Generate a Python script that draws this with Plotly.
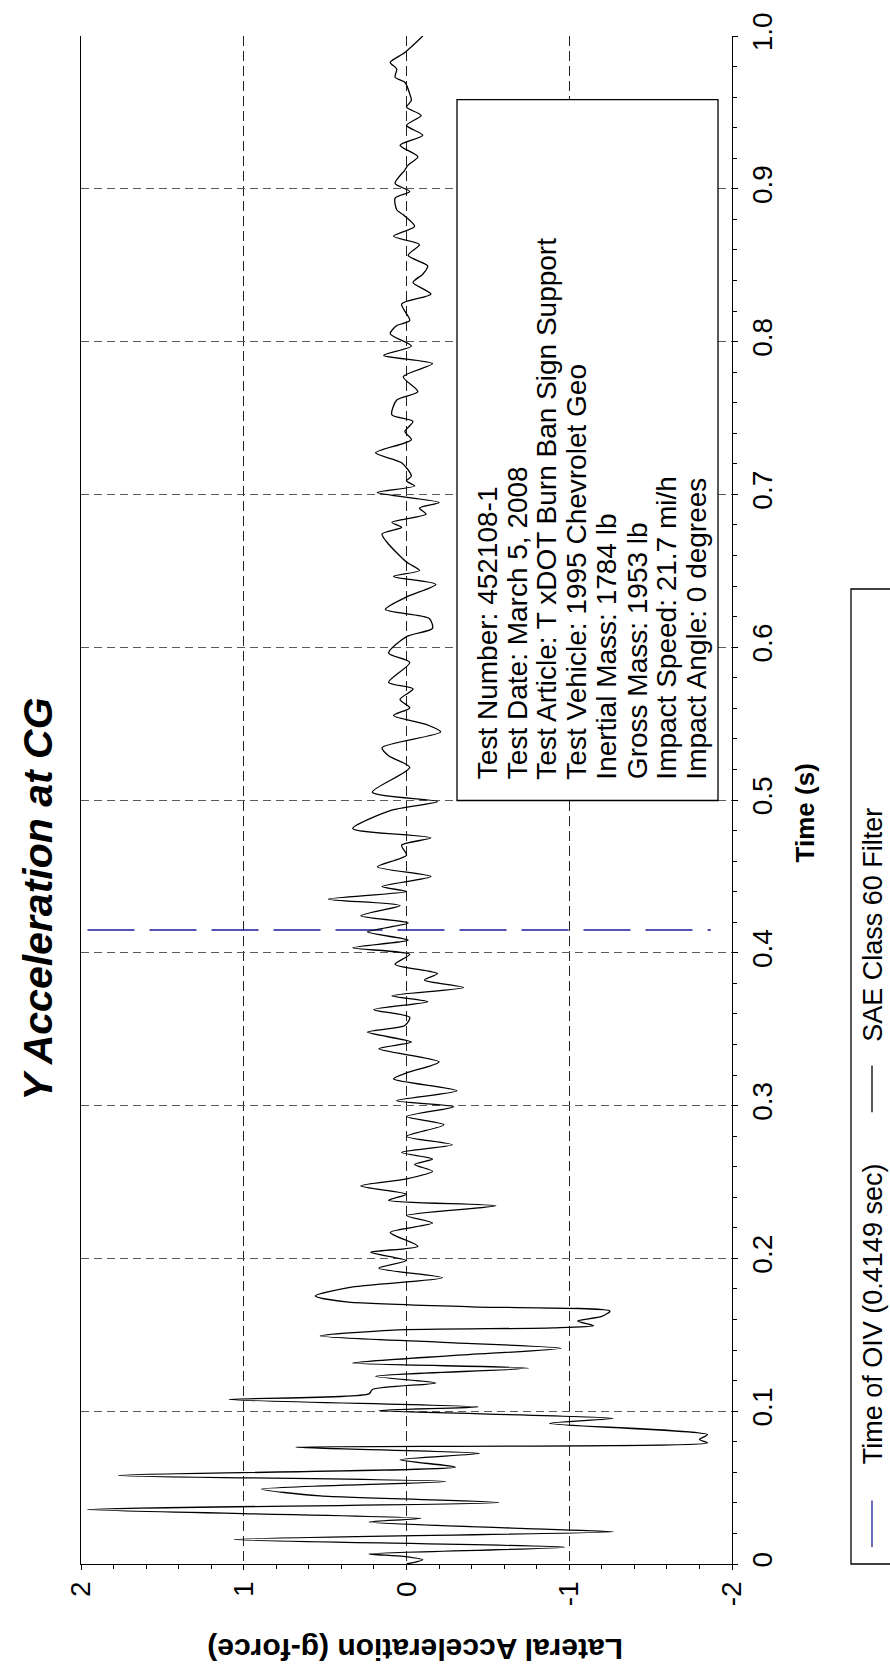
import plotly.graph_objects as go

# ---- data -----------------------------------------------------------------
# Y acceleration at the CG (g), SAE Class 60 filtered, sampled at its turning points
time_s = [
    0.0, 0.0028, 0.005, 0.0066, 0.011, 0.016, 0.0211, 0.0233, 0.0275, 0.0299,
    0.0356, 0.0403, 0.0446, 0.049, 0.054, 0.058, 0.0634, 0.0682, 0.0724, 0.0764,
    0.0793, 0.0815, 0.0847, 0.092, 0.0953, 0.1004, 0.1028, 0.1077, 0.1113, 0.1142,
    0.1185, 0.1228, 0.1282, 0.1315, 0.1365, 0.1412, 0.1449, 0.1492, 0.1531, 0.1545,
    0.156, 0.159, 0.162, 0.1655, 0.1683, 0.1715, 0.1754, 0.1813, 0.1873, 0.1936,
    0.1986, 0.2040, 0.2079, 0.2170, 0.2231, 0.228, 0.2344, 0.238, 0.242, 0.2474,
    0.252, 0.257, 0.2615, 0.2651, 0.2694, 0.2744, 0.2798, 0.2874, 0.2928, 0.2993,
    0.3032, 0.3097, 0.3175, 0.3214, 0.3286, 0.3372, 0.3416, 0.3481, 0.3524, 0.3578,
    0.3628, 0.368, 0.3719, 0.3773, 0.3821, 0.3864, 0.3925, 0.399, 0.4033, 0.4083,
    0.4137, 0.4195, 0.4243, 0.431, 0.4351, 0.4401, 0.4434, 0.4499, 0.4563, 0.4639,
    0.4704, 0.4752, 0.4813, 0.4931, 0.499, 0.5051, 0.5213, 0.5289, 0.5343, 0.5445,
    0.5495, 0.5553, 0.5603, 0.5658, 0.5727, 0.577, 0.59, 0.5961, 0.6069, 0.6123,
    0.6188, 0.6247, 0.6329, 0.6411, 0.6463, 0.6502, 0.6557, 0.6687, 0.6741, 0.6784,
    0.6817, 0.6871, 0.691, 0.6947, 0.7012, 0.7055, 0.7088, 0.712, 0.7207, 0.7272,
    0.7358, 0.7412, 0.7477, 0.7521, 0.7618, 0.7672, 0.777, 0.7856, 0.791, 0.7971,
    0.8051, 0.8105, 0.8138, 0.8246, 0.8311, 0.8387, 0.8441, 0.8495, 0.8564, 0.8635,
    0.8689, 0.8754, 0.883, 0.8863, 0.8939, 0.8982, 0.9036, 0.9123, 0.9155, 0.921,
    0.9285, 0.935, 0.9415, 0.948, 0.9534, 0.9578, 0.9621, 0.9697, 0.973, 0.9784,
    0.9827, 0.9892, 1.0,
]
accel_g = [
    0.0, -0.10, 0.02, 0.23, -0.97, 1.06, -1.27, -0.70, 0.23, -0.09,
    1.96, -0.57, 0.53, 0.89, -0.24, 1.77, -0.30, 0.04, -0.45, 0.68,
    -1.85, -1.80, -1.85, -0.88, -1.27, 0.17, -0.44, 1.09, 0.23, 0.21,
    -0.18, 0.19, -0.75, 0.33, -0.30, -0.95, -0.26, 0.53, 0.08, -0.90,
    -1.15, -1.05, -1.20, -1.25, -0.40, 0.37, 0.56, 0.33, -0.22, 0.17,
    0.00, 0.22, -0.07, 0.10, -0.16, 0.00, -0.55, 0.11, 0.00, 0.28,
    0.00, -0.16, -0.05, -0.16, 0.03, -0.28, 0.00, -0.23, 0.00, -0.29,
    0.06, -0.31, 0.08, 0.00, -0.20, 0.17, -0.03, 0.24, 0.01, -0.02,
    0.20, -0.13, 0.09, -0.35, -0.11, -0.19, 0.07, -0.02, 0.33, -0.01,
    0.24, -0.01, 0.28, 0.04, 0.48, 0.00, 0.15, -0.15, 0.18, 0.00,
    0.03, -0.15, 0.33, 0.10, -0.19, 0.21, -0.02, 0.11, 0.15, -0.21,
    -0.12, 0.08, -0.02, 0.04, -0.04, 0.11, -0.02, 0.11, 0.00, -0.16,
    -0.14, 0.13, 0.00, -0.18, 0.08, -0.08, 0.00, 0.12, 0.15, 0.03,
    0.09, -0.12, -0.08, -0.20, 0.18, -0.05, 0.00, -0.03, 0.03, 0.19,
    -0.03, 0.01, -0.04, 0.09, 0.06, -0.07, 0.02, -0.16, 0.14, -0.03,
    0.10, 0.06, -0.02, 0.03, -0.15, -0.04, -0.10, -0.13, -0.01, -0.08,
    0.08, -0.05, 0.02, 0.06, 0.07, -0.02, 0.07, 0.01, -0.01, -0.07,
    0.04, -0.10, 0.00, -0.09, 0.00, -0.03, -0.02, 0.01, 0.07, 0.06,
    0.10, 0.01, -0.10,
]

# occupant impact velocity time
oiv_time = 0.4149
oiv_span_g = [1.96, -1.87]

accel_ticks = [2, 1, 0, -1, -2]
accel_ticktext = ["2", "1", "0", "-1", "-2"]
time_ticks = [0.0, 0.1, 0.2, 0.3, 0.4, 0.5, 0.6, 0.7, 0.8, 0.9, 1.0]
time_ticktext = ["0", "0.1", "0.2", "0.3", "0.4", "0.5", "0.6", "0.7", "0.8", "0.9", "1.0"]

test_info = [
    "Test Number: 452108-1",
    "Test Date: March 5, 2008",
    "Test Article: T xDOT Burn Ban Sign Support",
    "Test Vehicle: 1995 Chevrolet Geo",
    "Inertial Mass: 1784 lb",
    "Gross Mass: 1953 lb",
    "Impact Speed: 21.7 mi/h",
    "Impact Angle: 0 degrees",
]

legend_labels = ["Time of OIV (0.4149 sec)", "SAE Class 60 Filter"]

# ---- page geometry (pixels) -------------------------------------------------
W, H = 890, 1675
ML, MR, MT, MB = 81, 158, 25, 111
PW, PH = W - ML - MR, H - MT - MB

FONT = "Arial, Liberation Sans, sans-serif"
OIV_BLUE = "#1c1c9c"


def px(xpix):
    return (xpix - ML) / PW


def py(ypix):
    return (H - MB - ypix) / PH


fig = go.Figure()

fig.add_trace(go.Scatter(
    x=[oiv_span_g[0], oiv_span_g[1]], y=[oiv_time, oiv_time],
    mode="lines", line=dict(color=OIV_BLUE, width=1.4, dash="47px,15px"),
    showlegend=False, hoverinfo="skip",
))
fig.add_trace(go.Scatter(
    x=accel_g, y=time_s, mode="lines",
    line=dict(color="black", width=1.3, shape="spline", smoothing=0.7),
    showlegend=False,
))

fig.update_xaxes(
    range=[2, -2], tickvals=accel_ticks, ticktext=accel_ticktext,
    tickangle=-90, tickfont=dict(family=FONT, size=28, color="black"),
    showline=True, linecolor="black", linewidth=1.3,
    ticks="outside", ticklen=5, tickcolor="black",
    minor=dict(dtick=0.2, ticks="outside", ticklen=4, tickcolor="black"),
    showgrid=True, gridcolor="#222222", gridwidth=1, griddash="10px,5px",
    zeroline=False, mirror=False,
)
fig.update_yaxes(
    range=[0, 1], side="right", tickvals=time_ticks, ticktext=time_ticktext,
    tickangle=-90, tickfont=dict(family=FONT, size=28, color="black"),
    showline=True, linecolor="black", linewidth=1.3, mirror=True,
    ticks="outside", ticklen=5, tickcolor="black",
    minor=dict(dtick=0.02, ticks="outside", ticklen=4, tickcolor="black"),
    showgrid=True, gridcolor="#5a5a5a", gridwidth=1, griddash="8px,5px",
    zeroline=False,
)

shapes = []
annotations = []

# information box
box_l, box_r, box_t, box_b = 457, 718, 89, 795
shapes.append(dict(type="rect", xref="paper", yref="paper",
                   x0=px(box_l), x1=px(box_r), y0=py(box_b), y1=py(box_t),
                   line=dict(color="black", width=1.3), fillcolor="white", layer="above"))
for i, line in enumerate(test_info):
    annotations.append(dict(
        text=line, xref="paper", yref="paper", x=px(487 + 30 * i), y=py(776),
        xanchor="center", yanchor="bottom", textangle=-90, showarrow=False,
        font=dict(family=FONT, size=28, color="black"),
    ))

# title and axis titles
annotations.append(dict(
    text="<b><i>Y Acceleration at CG</i></b>", xref="paper", yref="paper",
    x=px(38), y=py(895), xanchor="center", yanchor="middle", textangle=-90,
    showarrow=False, font=dict(family=FONT, size=41, color="black"),
))
annotations.append(dict(
    text="<b>Time (s)</b>", xref="paper", yref="paper",
    x=px(805), y=py(808), xanchor="center", yanchor="middle", textangle=-90,
    showarrow=False, font=dict(family=FONT, size=26, color="black"),
))
annotations.append(dict(
    text="<b>Lateral Acceleration (g-force)</b>", xref="paper", yref="paper",
    x=px(415), y=py(1650), xanchor="center", yanchor="middle", textangle=180,
    showarrow=False, font=dict(family=FONT, size=30, color="black"),
))

# legend panel
leg_l, leg_t, leg_b = 851, 582, 1564
shapes.append(dict(type="rect", xref="paper", yref="paper",
                   x0=px(leg_l), x1=px(W + 20), y0=py(leg_b), y1=py(leg_t),
                   line=dict(color="black", width=1.3), fillcolor="white"))
legend_items = [
    (legend_labels[0], OIV_BLUE, 1547, 1500, 1466),
    (legend_labels[1], "black", 1109, 1062, 1040),
]
for label, color, s0, s1, t0 in legend_items:
    shapes.append(dict(type="line", xref="paper", yref="paper",
                       x0=px(872), x1=px(872), y0=py(s0), y1=py(s1),
                       line=dict(color=color, width=1.3)))
    annotations.append(dict(
        text=label, xref="paper", yref="paper",
        x=px(873), y=py(t0), xanchor="center", yanchor="bottom", textangle=-90,
        showarrow=False, font=dict(family=FONT, size=27, color="black"),
    ))

fig.update_layout(
    width=W, height=H,
    margin=dict(l=ML, r=MR, t=MT, b=MB, pad=0),
    paper_bgcolor="white", plot_bgcolor="white",
    shapes=shapes, annotations=annotations,
    showlegend=False,
)

fig.write_html("out.html")
